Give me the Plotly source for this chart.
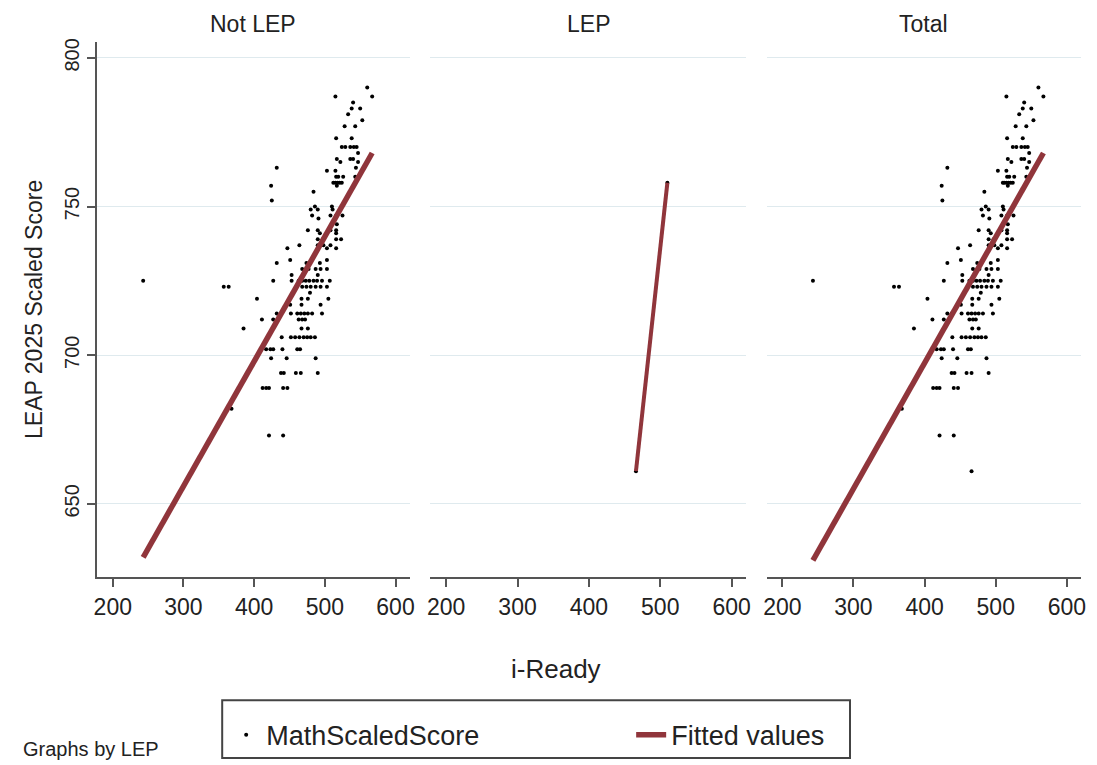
import plotly.graph_objects as go

# ---------------- data ----------------
panel_titles = ["Not LEP", "LEP", "Total"]

notlep_iready = [
    560,
    515, 567,
    540,
    538, 550,
    533,
    553,
    528, 543,
    516, 538,
    524, 529, 536, 541, 545,
    547,
    517, 536, 540,
    522, 547,
    432, 544,
    503, 515,
    516, 519, 526, 543,
    512, 515, 518, 521, 524,
    424, 517,
    484,
    425,
    486, 510,
    480, 490, 511,
    482, 508, 516, 525,
    491,
    517,
    476, 490, 508, 516,
    493, 516,
    490, 497, 516, 523,
    464, 490, 498, 508,
    447, 503, 516,
    451, 503,
    432, 474, 493,
    468, 477, 487, 494, 503,
    453, 490,
    243, 427, 453, 463, 468, 473, 478, 484, 489, 496, 507,
    357, 364, 468, 474, 480, 487, 494, 503,
    479,
    404, 467, 476, 505,
    451, 467, 494,
    432, 438, 452, 461, 466, 471, 476, 482, 496,
    411, 427, 463, 468, 472,
    385, 467, 476,
    439, 452, 458, 464, 470, 475, 480, 486,
    417, 423, 427, 440, 461, 465,
    424, 446, 487,
    438, 442, 459, 466, 490,
    412, 417, 421, 441, 447,
    368,
    421, 441,
]
notlep_score = [
    790,
    787, 787,
    785,
    783, 783,
    781,
    779,
    777, 777,
    773, 773,
    770, 770, 770, 770, 770,
    768,
    766, 766, 766,
    765, 765,
    763, 763,
    762, 762,
    760, 760, 760, 760,
    758, 758, 758, 758, 758,
    757, 757,
    755,
    752,
    750, 750,
    749, 749, 749,
    747, 747, 747, 747,
    746,
    744,
    742, 742, 742, 742,
    741, 741,
    739, 739, 739, 739,
    737, 737, 737, 737,
    736, 736, 736,
    732, 732,
    731, 731, 731,
    729, 729, 729, 729, 729,
    727, 727,
    725, 725, 725, 725, 725, 725, 725, 725, 725, 725, 725,
    723, 723, 723, 723, 723, 723, 723, 723,
    721,
    719, 719, 719, 719,
    717, 717, 717,
    714, 714, 714, 714, 714, 714, 714, 714, 714,
    712, 712, 712, 712, 712,
    709, 709, 709,
    706, 706, 706, 706, 706, 706, 706, 706,
    702, 702, 702, 702, 702, 702,
    699, 699, 699,
    694, 694, 694, 694, 694,
    689, 689, 689, 689, 689,
    682,
    673, 673,
]

lep_iready = [466, 510]
lep_score = [661, 758]

# fitted-value line end points
fit_notlep_x = [243, 567]
fit_notlep_y = [632, 768]
fit_lep_x = [466, 510]
fit_lep_y = [661, 758]
fit_total_x = [243, 567]
fit_total_y = [631, 768]

x_ticks = [200, 300, 400, 500, 600]
y_ticks = [650, 700, 750, 800]

assert len(notlep_iready) == len(notlep_score)

# ---------------- styling ----------------
W, H = 1097, 765
FONT = "Liberation Sans, Arial, Helvetica, sans-serif"
DOT = "#000000"
FIT = "#90353b"
AXIS = "#555555"
GRID = "#dfeaee"
TXT = "#222222"

total_iready = notlep_iready + lep_iready
total_score = notlep_score + lep_score

panels = [
    (notlep_iready, notlep_score, fit_notlep_x, fit_notlep_y, 5.5),
    (lep_iready, lep_score, fit_lep_x, fit_lep_y, 4),
    (total_iready, total_score, fit_total_x, fit_total_y, 5.5),
]

x_dom_px = [(94, 409), (430, 748), (769, 1086)]
y_dom_px = (38, 576)

fig = go.Figure()
for i, (px, py, fx, fy, lw) in enumerate(panels):
    sfx = "" if i == 0 else str(i + 1)
    fig.add_trace(go.Scatter(
        x=px, y=py, mode="markers", name="MathScaledScore",
        marker=dict(color=DOT, size=4),
        xaxis="x" + sfx, yaxis="y" + sfx,
        showlegend=(i == 0), legendrank=1,
    ))
    fig.add_trace(go.Scatter(
        x=fx, y=fy, mode="lines", name="Fitted values",
        line=dict(color=FIT, width=lw),
        xaxis="x" + sfx, yaxis="y" + sfx,
        showlegend=(i == 0), legendrank=2,
    ))

layout = dict(
    width=W, height=H,
    margin=dict(l=0, r=0, t=0, b=0),
    paper_bgcolor="white", plot_bgcolor="white",
    font=dict(family=FONT, color=TXT),
    showlegend=True,
    legend=dict(
        orientation="h",
        x=224 / W, xanchor="left",
        y=1 - 735 / H, yanchor="middle",
        borderwidth=0, bgcolor="rgba(0,0,0,0)",
        font=dict(size=27, family=FONT, color=TXT),
        entrywidth=360,
        itemwidth=30,
    ),
)

y0 = 1 - y_dom_px[1] / H
y1 = 1 - y_dom_px[0] / H
for i in range(3):
    sfx = "" if i == 0 else str(i + 1)
    xd = [x_dom_px[i][0] / W, x_dom_px[i][1] / W]
    layout["xaxis" + sfx] = dict(
        domain=xd, anchor="y" + sfx, range=[178, 620],
        tickvals=x_ticks, ticks="outside", ticklen=8, tickwidth=1.5,
        tickcolor=AXIS, showline=True, linecolor=AXIS, linewidth=2,
        showgrid=False, zeroline=False,
        tickfont=dict(size=23, family=FONT, color=TXT),
    )
    ycfg = dict(
        domain=[y0, y1], anchor="x" + sfx, range=[625.4, 805.4],
        tickvals=y_ticks, showgrid=True, gridcolor=GRID, gridwidth=1.3,
        zeroline=False,
    )
    if i == 0:
        ycfg.update(
            ticks="outside", ticklen=8, tickwidth=1.5, tickcolor=AXIS,
            showline=True, linecolor=AXIS, linewidth=2,
            tickangle=-90,
            tickfont=dict(size=20, family=FONT, color=TXT),
            title=dict(text="LEAP 2025 Scaled Score", standoff=12,
                       font=dict(size=23, family=FONT, color=TXT)),
        )
    else:
        ycfg.update(showline=False, showticklabels=False, ticks="")
    layout["yaxis" + sfx] = ycfg

annotations = []
for i, t in enumerate(panel_titles):
    cx = (x_dom_px[i][0] + x_dom_px[i][1]) / 2 / W
    annotations.append(dict(
        text=t, x=cx, y=1 - 20 / H, xref="paper", yref="paper",
        xanchor="center", yanchor="middle", showarrow=False,
        font=dict(size=23, family=FONT, color=TXT),
    ))
annotations.append(dict(
    text="i-Ready", x=557 / W, y=1 - 668 / H, xref="paper", yref="paper",
    xanchor="center", yanchor="middle", showarrow=False,
    font=dict(size=26, family=FONT, color=TXT),
))
annotations.append(dict(
    text="Graphs by LEP", x=17 / W, y=1 - 749 / H, xref="paper", yref="paper",
    xanchor="left", yanchor="middle", showarrow=False,
    font=dict(size=20, family=FONT, color=TXT),
))
layout["annotations"] = annotations

# legend frame
layout["shapes"] = [dict(
    type="rect", xref="paper", yref="paper",
    x0=220 / W, x1=853 / W, y0=1 - 758 / H, y1=1 - 700 / H,
    line=dict(color="#444444", width=2), fillcolor="rgba(0,0,0,0)",
    layer="below",
)]

fig.update_layout(**layout)
fig.write_html("out.html")
